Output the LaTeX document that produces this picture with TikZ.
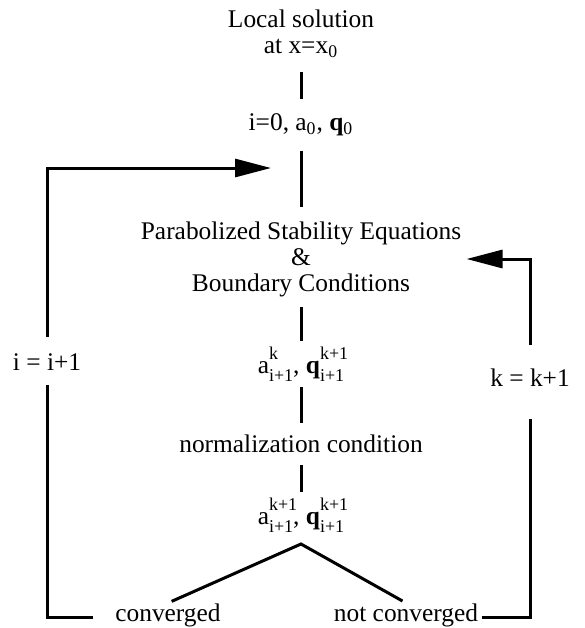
\documentclass[tikz,border=0pt]{standalone}
\usepackage{fontspec}
\setmainfont{Liberation Serif}
\usetikzlibrary{arrows.meta}
\tikzset{
  lbl/.style={align=center,inner sep=0pt,font=\fontsize{12.7}{13}\selectfont},
  ln/.style={line width=1.5pt,shorten <=7pt,shorten >=7pt},
  fb/.style={line width=1.5pt,-{Triangle[length=18pt,width=9pt]}},
}
\newcommand{\scr}[1]{{\fontsize{9}{9}\selectfont #1}}
\newcommand{\idx}[3]{#1\rlap{\raisebox{0.55em}{\scr{#2}}}\raisebox{-0.3em}{\scr{#3}}}

\begin{document}
\begin{tikzpicture}[x=0.5pt,y=-0.5pt]
\useasboundingbox (0,0) rectangle (585,628);
% main chain
\node[lbl] (loc) at (301,34) {Local solution\\at x=x\textsubscript{0}};
\node[lbl] (init) at (301,125) {i=0, a\textsubscript{0}, \textbf{q}\textsubscript{0}};
\node[lbl] (pse) at (301,259) {Parabolized Stability Equations\\\&\\Boundary Conditions};
\node[lbl] (ak) at (301,364) {\idx{a}{k}{i+1}, \idx{\textbf{q}}{k+1}{i+1}};
\node[lbl] (norm) at (301,444) {normalization condition};
\node[lbl] (ak1) at (301,515) {\idx{a}{k+1}{i+1}, \idx{\textbf{q}}{k+1}{i+1}};
\node[lbl,anchor=base] (conv) at (168,621) {converged};
\node[lbl,anchor=base] (nconv) at (406,621) {not converged};
\node[lbl] (inci) at (47,362) {i = i+1};
\node[lbl] (inck) at (530,378) {k = k+1};
\coordinate (apex) at (301,544);
\coordinate (join) at (301,168);
\draw[ln] (loc) -- (init);
\draw[ln] (init) -- (pse);
\draw[ln,shorten <=5pt,shorten >=3pt] (pse) -- (ak);
\draw[ln,shorten <=3pt,shorten >=6pt] (ak) -- (norm);
\draw[ln,shorten <=6pt,shorten >=3pt] (norm) -- (ak1);
\draw[ln,shorten <=2pt,shorten >=2pt] (conv.north) -- (apex) -- (nconv.north);
% outer loops
\draw[fb,shorten <=8pt,shorten >=15pt] (inci) |- (join);
\draw[ln,shorten >=11pt] (inci) |- ([yshift=2pt]conv.base west);
\draw[fb,shorten <=12pt,shorten >=2.5pt] (inck) |- (pse.east);
\draw[ln,shorten <=16pt,shorten >=2pt] (inck) |- ([yshift=2pt]nconv.base east);
\end{tikzpicture}
\end{document}
